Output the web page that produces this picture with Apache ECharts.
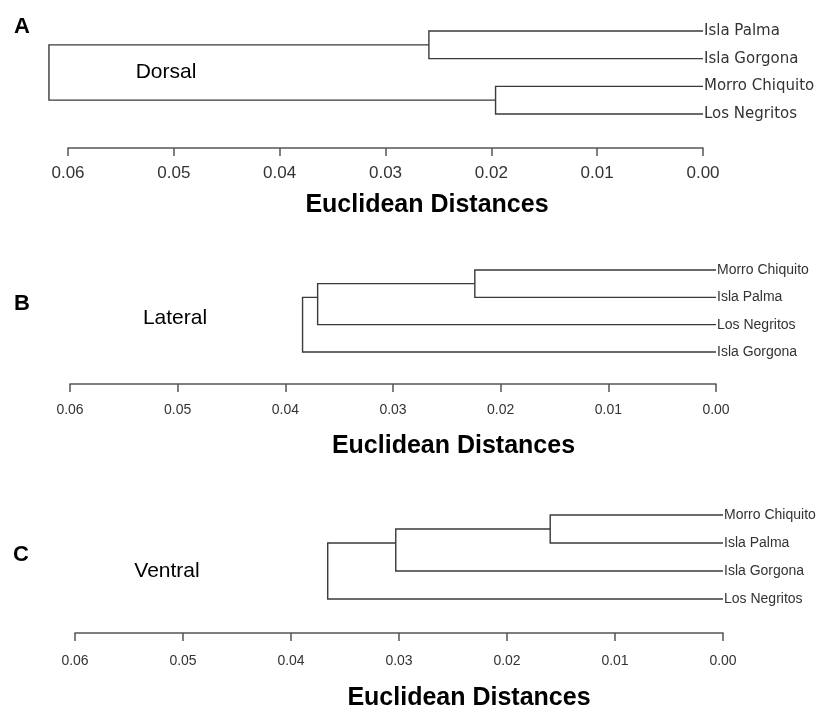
<!DOCTYPE html>
<html>
<head>
<meta charset="utf-8">
<title>Euclidean Distances</title>
<script src="https://cdn.jsdelivr.net/npm/echarts@6/dist/echarts.min.js"></script>
<style>
    html, body { margin: 0; padding: 0; background: #fff; }
    #chart { width: 821px; height: 715px; }
</style>
</head>
<body>
<div id="chart"></div>
<script>
// tick labels of the distance axis
var distTicks = [0.06, 0.05, 0.04, 0.03, 0.02, 0.01, 0.00];

// A - Dorsal
var dorsalLeaves = ['Isla Palma', 'Isla Gorgona', 'Morro Chiquito', 'Los Negritos'];
var dorsalMerge = [[-1, -2], [-3, -4], [1, 2]];
var dorsalHeight = [0.0259, 0.0196, 0.0618];

// B - Lateral
var lateralLeaves = ['Morro Chiquito', 'Isla Palma', 'Los Negritos', 'Isla Gorgona'];
var lateralMerge = [[-1, -2], [1, -3], [2, -4]];
var lateralHeight = [0.0224, 0.0370, 0.0384];

// C - Ventral
var ventralLeaves = ['Morro Chiquito', 'Isla Palma', 'Isla Gorgona', 'Los Negritos'];
var ventralMerge = [[-1, -2], [1, -3], [2, -4]];
var ventralHeight = [0.0160, 0.0303, 0.0366];

var panels = [
    { letter: 'A', name: 'Dorsal', leaves: dorsalLeaves, merge: dorsalMerge, height: dorsalHeight,
      grid: { left: 68, right: 118, top: 31, height: 83 }, offset: 34, tickSize: 17, tickMargin: 17,
      leafFont: 'DejaVu Sans', leafSize: 15, nameGap: 45, namePad: 83,
      letterPos: [22, 27], textPos: [166, 72] },
    { letter: 'B', name: 'Lateral', leaves: lateralLeaves, merge: lateralMerge, height: lateralHeight,
      grid: { left: 70, right: 105, top: 270, height: 82 }, offset: 32, tickSize: 14, tickMargin: 19,
      leafFont: 'Liberation Sans', leafSize: 14, nameGap: 50, namePad: 121,
      letterPos: [22, 304], textPos: [175, 318] },
    { letter: 'C', name: 'Ventral', leaves: ventralLeaves, merge: ventralMerge, height: ventralHeight,
      grid: { left: 75, right: 98, top: 515, height: 84 }, offset: 34, tickSize: 14, tickMargin: 21,
      leafFont: 'Liberation Sans', leafSize: 14, nameGap: 53, namePad: 140,
      letterPos: [21, 555], textPos: [167, 571] }
];

// each merge -> one bracket row [h child1, y child1, h node, y child2, h child2]
// node y = mean of its member leaves
function buildBrackets(merge, height) {
    var nodes = [];
    var rows = [];
    function info(id) {
        if (id < 0) return { h: 0, members: [-id] };
        return nodes[id - 1];
    }
    for (var i = 0; i < merge.length; i++) {
        var a = info(merge[i][0]), b = info(merge[i][1]);
        var h = height[i];
        rows.push([a.h, mean(a.members), h, mean(b.members), b.h]);
        nodes.push({ h: h, members: a.members.concat(b.members) });
    }
    return rows;
}

function mean(arr) {
    var s = 0;
    for (var i = 0; i < arr.length; i++) s += arr[i];
    return s / arr.length;
}

function tickText(v) {
    for (var k = 0; k < distTicks.length; k++) {
        if (Math.abs(distTicks[k] - v) < 1e-9) return distTicks[k].toFixed(2);
    }
    return '';
}

function renderBracket(params, api) {
    var p1 = api.coord([api.value(0), api.value(1)]);
    var p2 = api.coord([api.value(2), api.value(1)]);
    var p3 = api.coord([api.value(2), api.value(3)]);
    var p4 = api.coord([api.value(4), api.value(3)]);
    return {
        type: 'polyline',
        shape: { points: [p1, p2, p3, p4] },
        style: { stroke: '#3a3a3a', lineWidth: 1.4, fill: null }
    };
}

var grids = [], xAxes = [], yAxes = [], series = [], graphics = [];

panels.forEach(function (p, idx) {
    grids.push(p.grid);
    xAxes.push({
        type: 'value',
        gridIndex: idx,
        inverse: true,
        min: 0,
        max: 0.06,
        interval: 0.01,
        position: 'bottom',
        offset: p.offset,
        name: 'Euclidean Distances',
        nameLocation: 'middle',
        nameGap: p.nameGap,
        nameTextStyle: {
            fontFamily: 'Liberation Sans',
            fontWeight: 'bold',
            fontSize: 25,
            color: '#000',
            padding: [0, 0, 0, p.namePad]
        },
        axisLine: { show: true, onZero: false, lineStyle: { color: '#555', width: 1.5 } },
        axisTick: { show: true, length: 8, lineStyle: { color: '#555', width: 1.5 } },
        axisLabel: {
            margin: p.tickMargin,
            fontFamily: 'Liberation Sans',
            fontSize: p.tickSize,
            color: '#333',
            formatter: tickText
        },
        splitLine: { show: false }
    });
    yAxes.push({
        type: 'value',
        gridIndex: idx,
        inverse: true,
        min: 1,
        max: p.leaves.length,
        interval: 1,
        position: 'right',
        axisLine: { show: false },
        axisTick: { show: false },
        splitLine: { show: false },
        axisLabel: {
            margin: 1,
            fontFamily: p.leafFont,
            fontSize: p.leafSize,
            color: '#333',
            formatter: function (v) { return p.leaves[v - 1] || ''; }
        }
    });
    series.push({
        type: 'custom',
        xAxisIndex: idx,
        yAxisIndex: idx,
        data: buildBrackets(p.merge, p.height),
        encode: { x: [0, 2, 4], y: [1, 3] },
        renderItem: renderBracket,
        clip: false,
        silent: true
    });

    graphics.push({
        type: 'text',
        x: p.letterPos[0],
        y: p.letterPos[1],
        style: {
            text: p.letter,
            font: 'bold 22px "Liberation Sans"',
            fill: '#000',
            textAlign: 'center',
            textVerticalAlign: 'middle'
        }
    });
    graphics.push({
        type: 'text',
        x: p.textPos[0],
        y: p.textPos[1],
        style: {
            text: p.name,
            font: '21px "Liberation Sans"',
            fill: '#000',
            textAlign: 'center',
            textVerticalAlign: 'middle'
        }
    });
});

var chart = echarts.init(document.getElementById('chart'));
chart.setOption({
    backgroundColor: '#fff',
    animation: false,
    grid: grids,
    xAxis: xAxes,
    yAxis: yAxes,
    series: series,
    graphic: graphics
});
</script>
</body>
</html>
